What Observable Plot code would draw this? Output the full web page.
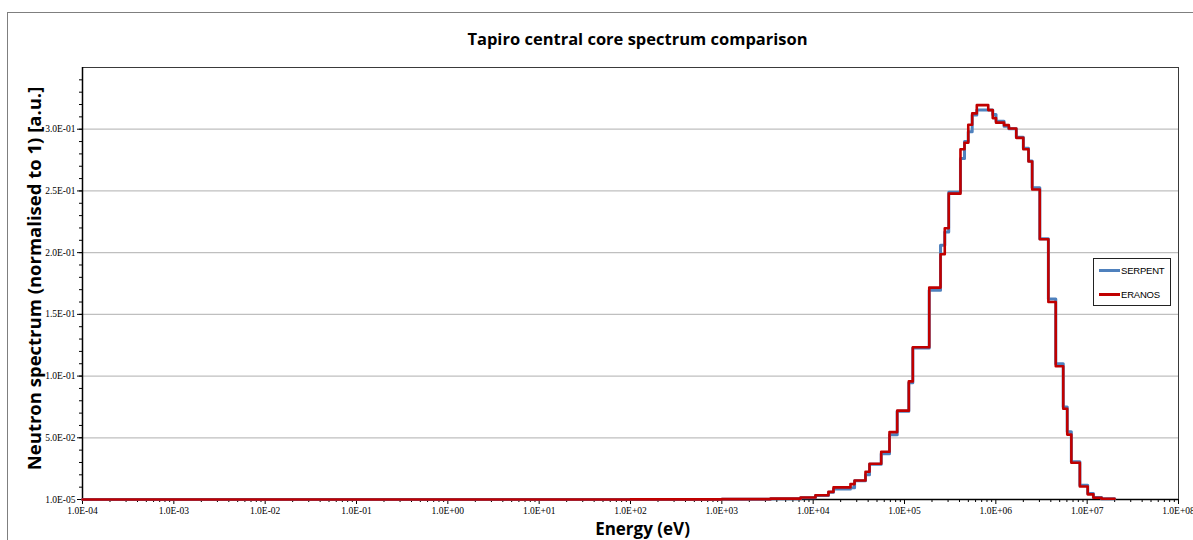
<!DOCTYPE html>
<html>
<head>
<meta charset="utf-8">
<script src="https://cdn.jsdelivr.net/npm/d3@7"></script>
<script src="https://cdn.jsdelivr.net/npm/@observablehq/plot@0.6"></script>
<style>
  html, body { margin: 0; padding: 0; background: #fff; }
  #wrap { position: relative; width: 1193px; height: 540px; overflow: hidden; background: #fff; }
  #outer { position: absolute; left: 7px; top: 12px; width: 1300px; height: 700px; border: 1.5px solid #7f7f7f; pointer-events: none; }
  #chart { position: absolute; left: 0; top: 0; }
  #legend { position: absolute; left: 1093px; top: 258px; width: 76px; height: 46px; border: 1px solid #222; background: #fff;
            font-family: "Liberation Sans Narrow", "Liberation Sans", sans-serif; font-size: 9.5px; color: #000; letter-spacing: -0.2px; }
  .li { position: absolute; left: 5px; height: 12px; display: flex; align-items: center; }
  .sw { width: 21px; height: 0; border-top: 3px solid; margin-right: 1px; }
</style>
</head>
<body>
<div id="wrap">
  <div id="chart"></div>
  <div id="outer"></div>
  <div id="legend">
    <div class="li" style="top:5px"><span class="sw" style="border-color:#4f81bd"></span><span>SERPENT</span></div>
    <div class="li" style="top:29px"><span class="sw" style="border-color:#c00000"></span><span>ERANOS</span></div>
  </div>
</div>
<script>
// ---- data ----
const titleText = "Tapiro central core spectrum comparison";
const xLabel = "Energy (eV)";
const yLabel = "Neutron spectrum (normalised to 1) [a.u.]";
const seriesNames = ["SERPENT", "ERANOS"];

const xTicks = [1e-4, 1e-3, 1e-2, 1e-1, 1e0, 1e1, 1e2, 1e3, 1e4, 1e5, 1e6, 1e7, 1e8];
const xTickLabels = ["1.0E-04","1.0E-03","1.0E-02","1.0E-01","1.0E+00","1.0E+01","1.0E+02","1.0E+03","1.0E+04","1.0E+05","1.0E+06","1.0E+07","1.0E+08"];
const yTicks = [1e-5, 0.05, 0.10, 0.15, 0.20, 0.25, 0.30];
const yTickLabels = ["1.0E-05","5.0E-02","1.0E-01","1.5E-01","2.0E-01","2.5E-01","3.0E-01"];

// group boundaries (eV)
const energyBounds = [1e-4, 1e2, 1e3, 3.41e3, 7.28e3, 1.06e4, 1.47e4, 1.67e4, 2.56e4, 2.84e4, 3.74e4, 4.14e4, 5.56e4,
  6.85e4, 8.32e4, 1.115e5, 1.233e5, 1.866e5, 2.48e5, 2.76e5, 3.05e5, 4.10e5, 4.54e5, 4.99e5, 5.51e5, 6.19e5, 8.26e5,
  9.25e5, 1.005e6, 1.23e6, 1.388e6, 1.675e6, 2.00e6, 2.28e6, 2.50e6, 3.03e6, 3.76e6, 4.53e6, 5.47e6, 6.05e6, 6.71e6,
  8.32e6, 1.014e7, 1.17e7, 1.44e7, 2.0e7];

const eranos = [0.00001, 0.0001, 0.0003, 0.0007, 0.0016, 0.0035, 0.0062, 0.0098, 0.0125, 0.0154, 0.0225, 0.029,
  0.0387, 0.0546, 0.072, 0.0957, 0.1233, 0.1717, 0.1987, 0.2198, 0.2478, 0.2838, 0.289, 0.3036, 0.3128, 0.3195,
  0.3155, 0.309, 0.3053, 0.3033, 0.3006, 0.293, 0.2838, 0.2738, 0.2512, 0.2109, 0.160, 0.108, 0.0735, 0.0526,
  0.0298, 0.0105, 0.0042, 0.0014, 0.0006];

const serpent = [0.00001, 0.0001, 0.0003, 0.0006, 0.0014, 0.0032, 0.0058, 0.0085, 0.0095, 0.0152, 0.020, 0.0285,
  0.037, 0.0525, 0.0715, 0.0945, 0.1228, 0.1695, 0.206, 0.2168, 0.249, 0.2763, 0.29, 0.298, 0.3115, 0.3155,
  0.3155, 0.312, 0.3065, 0.3025, 0.3003, 0.2935, 0.2845, 0.2742, 0.2525, 0.2112, 0.1625, 0.110, 0.075, 0.055,
  0.0305, 0.0115, 0.0048, 0.0016, 0.0006];

// ---- build step tables ----
function steps(vals) {
  const pts = [];
  vals.forEach((v, i) => { pts.push({E: energyBounds[i], v}); pts.push({E: energyBounds[i + 1], v}); });
  return pts;
}
const serpentPts = steps(serpent);
const eranosPts = steps(eranos);

const xFmt = d => xTickLabels[xTicks.indexOf(d)] ?? "";
const yFmt = d => { const i = yTicks.findIndex(t => Math.abs(t - d) < 1e-9); return i >= 0 ? yTickLabels[i] : ""; };

const xMinor = [];
xTicks.slice(0, -1).forEach(dec => { for (let k = 2; k <= 9; k++) xMinor.push(dec * k); });
const yMinor = d3.range(1, 35).map(k => k / 100);

const chart = Plot.plot({
  width: 1193,
  height: 540,
  marginLeft: 82,
  marginRight: 15,
  marginTop: 67,
  marginBottom: 41,
  style: { fontFamily: "Liberation Serif, serif", fontSize: "9.5px", background: "#fff", color: "#000" },
  x: { type: "log", domain: [1e-4, 1e8] },
  y: { domain: [1e-5, 0.35] },
  marks: [
    Plot.gridY(yTicks.slice(1), { stroke: "#bfbfbf", strokeOpacity: 1, strokeWidth: 1.2 }),
    Plot.frame({ stroke: "#3a3a3a", strokeWidth: 1 }),
    Plot.axisX({ ticks: xMinor, tickSize: 3, tickFormat: () => "", label: null }),
    Plot.axisX({ ticks: xTicks, tickSize: 5, tickPadding: 3, tickFormat: xFmt, label: null }),
    Plot.axisY({ ticks: yMinor, tickSize: 3, tickFormat: () => "", label: null }),
    Plot.axisY({ ticks: yTicks, tickSize: 5, tickPadding: 2, tickFormat: yFmt, label: null }),
    Plot.ruleX([1e-4], { stroke: "#000", strokeWidth: 1.5 }),
    Plot.ruleY([1e-5], { stroke: "#000", strokeWidth: 1.5 }),
    Plot.line(serpentPts, { x: "E", y: "v", stroke: "#4f81bd", strokeWidth: 3, curve: "linear" }),
    Plot.line(eranosPts, { x: "E", y: "v", stroke: "#c00000", strokeWidth: 2.6, curve: "linear" }),
    Plot.text([titleText], { frameAnchor: "top", lineAnchor: "middle", dy: -28, dx: 7, fontFamily: "Open Sans, sans-serif", fontSize: 16.5, fontWeight: "bold", fill: "#000" }),
    Plot.text([xLabel], { frameAnchor: "bottom", lineAnchor: "middle", dy: 30, dx: 12, fontFamily: "Open Sans, sans-serif", fontSize: 17, fontWeight: "bold", fill: "#000" }),
    Plot.text([yLabel], { frameAnchor: "left", textAnchor: "middle", lineAnchor: "middle", dx: -47, dy: -5, rotate: -90, fontFamily: "Open Sans, sans-serif", fontSize: 18.5, fontWeight: "bold", fill: "#000" })
  ]
});
document.getElementById("chart").appendChild(chart);
</script>
</body>
</html>
